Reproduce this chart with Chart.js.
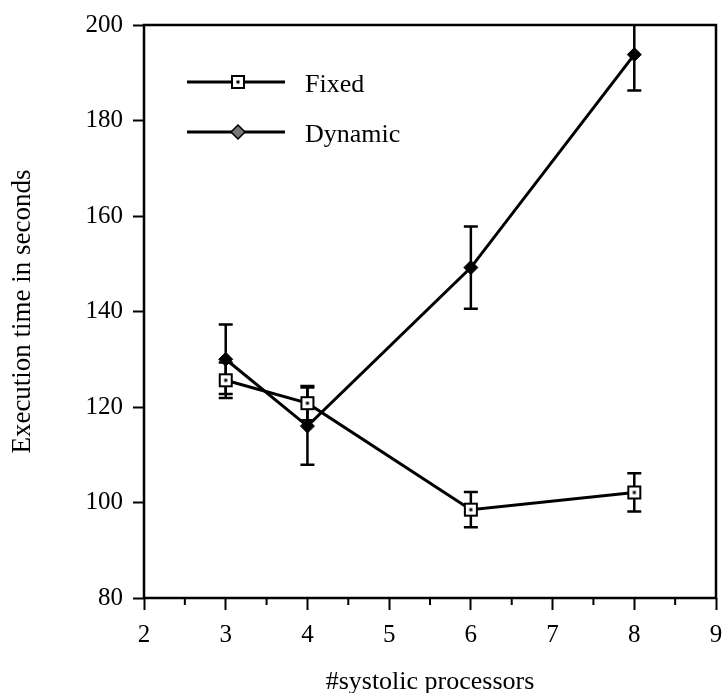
<!DOCTYPE html>
<html>
<head>
<meta charset="utf-8">
<script src="https://cdn.jsdelivr.net/npm/chart.js@4.4.0/dist/chart.umd.min.js"></script>
<style>
  html, body { margin: 0; background: #fff; }
  #wrap { width: 728px; height: 693px; }
</style>
</head>
<body>
<div id="wrap"><canvas id="chart"></canvas></div>
<script>
const processors = [3, 4, 6, 8];
const fixedTimes = [125.6, 120.8, 98.5, 102.1];
const fixedErr = [3.7, 3.6, 3.7, 4.0];
const dynamicTimes = [130, 116, 149.2, 193.8];
const dynamicErr = [7.3, 8.1, 8.6, 7.5];
const xTicks = [2, 3, 4, 5, 6, 7, 8, 9];
const xMinorTicks = [2.5, 3.5, 4.5, 5.5, 6.5, 7.5, 8.5];
const yTicks = [80, 100, 120, 140, 160, 180, 200];

const serif = "'Liberation Serif', serif";

// open square with a dot in the middle
function squareMarker() {
  const c = document.createElement('canvas');
  c.width = 16; c.height = 16;
  const g = c.getContext('2d');
  g.fillStyle = '#fff';
  g.fillRect(1, 1, 14, 14);
  g.strokeStyle = '#000';
  g.lineWidth = 2;
  g.strokeRect(2, 2, 12, 12);
  g.fillStyle = '#000';
  g.fillRect(6.5, 6.5, 3, 3);
  return c;
}
const fixedMarker = squareMarker();

const errorBars = {
  id: 'errorBars',
  beforeDatasetsDraw(chart) {
    const ctx = chart.ctx, area = chart.chartArea, y = chart.scales.y;
    ctx.save();
    ctx.beginPath();
    ctx.rect(area.left, area.top, area.right - area.left, area.bottom - area.top);
    ctx.clip();
    ctx.strokeStyle = '#000';
    ctx.lineWidth = 2.5;
    chart.data.datasets.forEach((ds, i) => {
      const meta = chart.getDatasetMeta(i);
      ds.errors.forEach((e, j) => {
        const px = meta.data[j].x;
        const top = y.getPixelForValue(ds.data[j].y + e);
        const bot = y.getPixelForValue(ds.data[j].y - e);
        ctx.beginPath();
        ctx.moveTo(px, top); ctx.lineTo(px, bot);
        ctx.moveTo(px - 7, top); ctx.lineTo(px + 7, top);
        ctx.moveTo(px - 7, bot); ctx.lineTo(px + 7, bot);
        ctx.stroke();
      });
    });
    ctx.restore();
  }
};

const frame = {
  id: 'frame',
  afterDraw(chart) {
    const ctx = chart.ctx, a = chart.chartArea, x = chart.scales.x;
    ctx.save();
    ctx.strokeStyle = '#000';
    ctx.lineWidth = 2.5;
    ctx.strokeRect(a.left, a.top, a.right - a.left, a.bottom - a.top);
    ctx.lineWidth = 2;
    ctx.beginPath();
    xMinorTicks.forEach(v => {
      const px = x.getPixelForValue(v);
      ctx.moveTo(px, a.bottom); ctx.lineTo(px, a.bottom + 7);
    });
    ctx.stroke();

    // legend
    const items = [
      { label: 'Fixed', dy: 57 },
      { label: 'Dynamic', dy: 107 }
    ];
    ctx.font = '26px ' + serif;
    ctx.textBaseline = 'middle';
    ctx.fillStyle = '#000';
    items.forEach((it, i) => {
      const ly = a.top + it.dy;
      const x0 = a.left + 43, x1 = a.left + 141, mx = a.left + 94;
      ctx.lineWidth = 3;
      ctx.beginPath();
      ctx.moveTo(x0, ly); ctx.lineTo(x1, ly);
      ctx.stroke();
      if (i === 0) {
        ctx.drawImage(fixedMarker, mx - 8, ly - 8);
      } else {
        ctx.beginPath();
        ctx.moveTo(mx, ly - 7); ctx.lineTo(mx + 7, ly);
        ctx.lineTo(mx, ly + 7); ctx.lineTo(mx - 7, ly);
        ctx.closePath();
        ctx.fillStyle = '#777';
        ctx.fill();
        ctx.lineWidth = 1.5;
        ctx.stroke();
        ctx.fillStyle = '#000';
      }
      ctx.fillText(it.label, a.left + 161, ly + 3);
    });
    ctx.restore();
  }
};

new Chart(document.getElementById('chart'), {
  type: 'line',
  data: {
    datasets: [
      {
        label: 'Fixed',
        data: processors.map((p, i) => ({ x: p, y: fixedTimes[i] })),
        errors: fixedErr,
        borderColor: '#000',
        borderWidth: 3,
        pointStyle: fixedMarker,
        order: 0
      },
      {
        label: 'Dynamic',
        data: processors.map((p, i) => ({ x: p, y: dynamicTimes[i] })),
        errors: dynamicErr,
        borderColor: '#000',
        backgroundColor: '#000',
        borderWidth: 3,
        pointStyle: 'rectRot',
        pointRadius: 7,
        pointBorderWidth: 1,
        order: 1
      }
    ]
  },
  options: {
    responsive: true,
    maintainAspectRatio: false,
    animation: false,
    layout: { padding: { top: 22, right: 12, left: 0, bottom: 0 } },
    plugins: { legend: { display: false }, tooltip: { enabled: false } },
    scales: {
      x: {
        type: 'linear',
        min: 2, max: 9,
        afterBuildTicks: s => { s.ticks = xTicks.map(v => ({ value: v })); },
        afterFit: s => { s.height = 95; s.paddingLeft = 0; s.paddingRight = 0; },
        grid: { drawOnChartArea: false, color: '#000', tickLength: 12, tickWidth: 2 },
        border: { display: false },
        ticks: { color: '#000', font: { family: serif, size: 25 }, padding: 10, maxRotation: 0 },
        title: { display: true, text: '#systolic processors', color: '#000', font: { family: serif, size: 26 }, padding: { top: 0, bottom: -5 } }
      },
      y: {
        min: 80, max: 200,
        afterBuildTicks: s => { s.ticks = yTicks.map(v => ({ value: v })); },
        afterFit: s => { s.width = 144; },
        grid: { drawOnChartArea: false, color: '#000', tickLength: 11, tickWidth: 2 },
        border: { display: false },
        ticks: { color: '#000', font: { family: serif, size: 25 }, padding: 10 },
        title: { display: true, text: 'Execution time in seconds', color: '#000', font: { family: serif, size: 27 }, padding: { top: 7, bottom: 0 } }
      }
    }
  },
  plugins: [errorBars, frame]
});
</script>
</body>
</html>
